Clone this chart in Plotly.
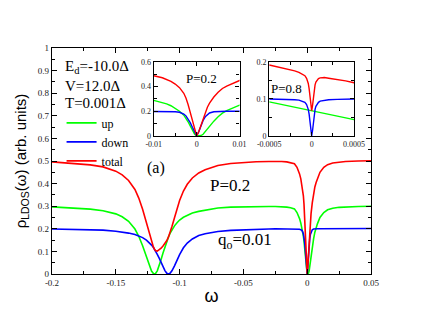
import plotly.graph_objects as go

# ---------------- data: P = 0.2 (main panel and first inset) ----------------
omega = [-0.2, -0.19, -0.18, -0.17, -0.16, -0.15, -0.145, -0.14, -0.135, -0.132,
         -0.129, -0.126, -0.124, -0.122, -0.1205, -0.1197, -0.119, -0.1175, -0.116, -0.1145,
         -0.113, -0.1115, -0.11, -0.1087, -0.1075, -0.106, -0.104, -0.102, -0.1, -0.097,
         -0.094, -0.09, -0.085, -0.08, -0.075, -0.07, -0.06, -0.05, -0.04, -0.03,
         -0.025, -0.02, -0.016, -0.013, -0.01, -0.008, -0.007, -0.006, -0.005, -0.004,
         -0.003, -0.0025, -0.002, -0.0015, -0.001, -0.0005, 0.0, 0.0005, 0.001, 0.0015,
         0.002, 0.0025, 0.003, 0.004, 0.005, 0.006, 0.007, 0.008, 0.01, 0.013,
         0.016, 0.02, 0.025, 0.03, 0.04, 0.05]
up = [0.297, 0.294, 0.291, 0.287, 0.28, 0.266, 0.253, 0.233, 0.199, 0.167,
      0.125, 0.074, 0.04, 0.013, 0.002, 0.0, 0.001, 0.014, 0.036, 0.064,
      0.093, 0.12, 0.145, 0.164, 0.18, 0.196, 0.213, 0.227, 0.239, 0.251,
      0.26, 0.27, 0.277, 0.283, 0.288, 0.292, 0.296, 0.298, 0.299, 0.299,
      0.299, 0.298, 0.296, 0.293, 0.288, 0.272, 0.26, 0.245, 0.225, 0.2,
      0.168, 0.145, 0.115, 0.082, 0.048, 0.016, 0.0, 0.0, 0.003, 0.013,
      0.035, 0.058, 0.08, 0.12, 0.155, 0.185, 0.205, 0.222, 0.25, 0.272,
      0.284, 0.291, 0.295, 0.297, 0.299, 0.3]
down = [0.199, 0.198, 0.197, 0.196, 0.194, 0.189, 0.186, 0.181, 0.175, 0.169,
        0.161, 0.15, 0.14, 0.128, 0.117, 0.11, 0.103, 0.087, 0.07, 0.05,
        0.031, 0.015, 0.003, 0.0, 0.003, 0.014, 0.036, 0.062, 0.086, 0.116,
        0.137, 0.155, 0.17, 0.178, 0.184, 0.188, 0.193, 0.196, 0.198, 0.199,
        0.2, 0.2, 0.2, 0.2, 0.2, 0.2, 0.199, 0.198, 0.196, 0.192,
        0.178, 0.163, 0.14, 0.108, 0.07, 0.028, 0.0, 0.035, 0.085, 0.125,
        0.155, 0.175, 0.186, 0.196, 0.199, 0.2, 0.2, 0.2, 0.2, 0.2,
        0.2, 0.2, 0.2, 0.201, 0.201, 0.201]
total = [0.496, 0.492, 0.488, 0.483, 0.474, 0.455, 0.439, 0.414, 0.374, 0.336,
         0.286, 0.224, 0.18, 0.141, 0.119, 0.11, 0.104, 0.101, 0.106, 0.114,
         0.124, 0.135, 0.148, 0.164, 0.183, 0.21, 0.249, 0.289, 0.325, 0.367,
         0.397, 0.425, 0.447, 0.461, 0.472, 0.48, 0.489, 0.494, 0.497, 0.498,
         0.499, 0.498, 0.496, 0.493, 0.488, 0.472, 0.459, 0.443, 0.421, 0.392,
         0.346, 0.308, 0.255, 0.19, 0.118, 0.044, 0.0, 0.035, 0.088, 0.138,
         0.19, 0.233, 0.266, 0.316, 0.354, 0.385, 0.405, 0.422, 0.45, 0.472,
         0.484, 0.491, 0.495, 0.498, 0.5, 0.501]

# ---------------- data: P = 0.8 (second inset) ----------------
omega_p8 = [-0.0005, -0.0004, -0.0003, -0.0002, -0.00015, -0.0001, -0.00008, -0.00006, -0.00005,
            -0.00004, -0.00003, -0.00002, -0.00001, 0.0, 0.00001, 0.00002, 0.00003, 0.00004,
            0.00005, 0.00006, 0.00008, 0.0001, 0.00015, 0.0002, 0.0003, 0.0004, 0.0005]
up_p8 = [0.092, 0.087, 0.082, 0.078, 0.075, 0.073, 0.072, 0.071, 0.070,
         0.070, 0.069, 0.069, 0.068, 0.068, 0.068, 0.067, 0.067, 0.066,
         0.066, 0.065, 0.064, 0.063, 0.061, 0.058, 0.054, 0.049, 0.044]
down_p8 = [0.1, 0.1, 0.099, 0.098, 0.097, 0.094, 0.091, 0.085, 0.08,
           0.072, 0.059, 0.039, 0.014, 0.0, 0.014, 0.039, 0.059, 0.072,
           0.08, 0.085, 0.091, 0.094, 0.097, 0.098, 0.099, 0.1, 0.1]
total_p8 = [0.192, 0.187, 0.181, 0.176, 0.172, 0.167, 0.163, 0.156, 0.15,
            0.142, 0.128, 0.108, 0.082, 0.068, 0.082, 0.106, 0.126, 0.138,
            0.146, 0.15, 0.155, 0.157, 0.158, 0.156, 0.153, 0.149, 0.144]

# ---------------- tick labels ----------------
main_xticks = [-0.2, -0.15, -0.1, -0.05, 0, 0.05]
main_xticktext = ["-0.2", "-0.15", "-0.1", "-0.05", "0", "0.05"]
main_yticks = [0, 0.1, 0.2, 0.3, 0.4, 0.5, 0.6, 0.7, 0.8, 0.9, 1]
main_yticktext = ["0", "0.1", "0.2", "0.3", "0.4", "0.5", "0.6", "0.7", "0.8", "0.9", "1"]
in1_xticks = [-0.01, 0, 0.01]
in1_xticktext = ["-0.01", "0", "0.01"]
in1_yticks = [0, 0.2, 0.4, 0.6]
in1_yticktext = ["0", "0.2", "0.4", "0.6"]
in2_xticks = [-0.0005, 0, 0.0005]
in2_xticktext = ["-0.0005", "0", "0.0005"]
in2_yticks = [0, 0.1, 0.2]
in2_yticktext = ["0", "0.1", "0.2"]

GREEN, BLUE, RED = "#00ff00", "#0000ff", "#ff0000"
SERIF = "Liberation Serif"
SANS = "Liberation Sans"

fig = go.Figure()
for y, name, col in [(up, "up", GREEN), (down, "down", BLUE), (total, "total", RED)]:
    fig.add_trace(go.Scatter(x=omega, y=y, name=name, mode="lines",
                             line=dict(color=col, width=1.6), xaxis="x", yaxis="y"))
for y, col in [(up, GREEN), (down, BLUE), (total, RED)]:
    fig.add_trace(go.Scatter(x=omega, y=y, mode="lines", showlegend=False,
                             line=dict(color=col, width=1.4), xaxis="x2", yaxis="y2"))
for y, col in [(up_p8, GREEN), (down_p8, BLUE), (total_p8, RED)]:
    fig.add_trace(go.Scatter(x=omega_p8, y=y, mode="lines", showlegend=False,
                             line=dict(color=col, width=1.4), xaxis="x3", yaxis="y3"))


def ax(**kw):
    base = dict(showline=True, linecolor="black", linewidth=1.3, mirror="allticks",
                ticks="inside", tickcolor="black", showgrid=False, zeroline=False,
                tickmode="array", tickfont=dict(family=SERIF, size=9, color="#222"))
    base.update(kw)
    return base


# the page body adds an 8px offset, so margins are shifted to compensate
fig.update_layout(
    width=430, height=332,
    margin=dict(l=40, r=67, t=40, b=66),
    paper_bgcolor="white", plot_bgcolor="white",
    showlegend=True,
    legend=dict(x=0.03, y=0.733, xanchor="left", yanchor="top",
                bgcolor="rgba(0,0,0,0)", font=dict(family=SERIF, size=12, color="black"),
                tracegroupgap=0, itemwidth=30),
    xaxis=ax(domain=[0, 1], range=[-0.2, 0.05], tickvals=main_xticks, ticktext=main_xticktext,
             ticklen=5, minor=dict(tickmode="linear", tick0=0, dtick=0.025, ticklen=3,
                                   ticks="inside", tickcolor="black"),
             title=dict(text="ω", font=dict(family=SANS, size=18, color="black"), standoff=2),
             anchor="y"),
    yaxis=ax(domain=[0, 1], range=[0, 1], tickvals=main_yticks, ticktext=main_yticktext,
             ticklen=5, minor=dict(tickmode="linear", tick0=0, dtick=0.05, ticklen=3,
                                   ticks="inside", tickcolor="black"),
             title=dict(text="ρ<sub>LDOS</sub>(ω) (arb. units)",
                        font=dict(family=SANS, size=15, color="black"), standoff=7),
             anchor="x"),
    xaxis2=ax(domain=[0.319, 0.588], range=[-0.01, 0.01], tickvals=in1_xticks,
              ticktext=in1_xticktext, ticklen=4, tickfont=dict(family=SERIF, size=8, color="#222"),
              minor=dict(tickmode="linear", tick0=0, dtick=0.005, ticklen=3, ticks="inside",
                         tickcolor="black"),
              anchor="y2"),
    yaxis2=ax(domain=[0.611, 0.938], range=[0, 0.6], tickvals=in1_yticks,
              ticktext=in1_yticktext, ticklen=4, tickfont=dict(family=SERIF, size=8, color="#222"),
              minor=dict(tickmode="linear", tick0=0, dtick=0.1, ticklen=3, ticks="inside",
                         tickcolor="black"),
              anchor="x2"),
    xaxis3=ax(domain=[0.681, 0.947], range=[-0.0005, 0.0005], tickvals=in2_xticks,
              ticktext=in2_xticktext, ticklen=4, tickfont=dict(family=SERIF, size=8, color="#222"),
              minor=dict(tickmode="linear", tick0=0, dtick=0.00025, ticklen=3, ticks="inside",
                         tickcolor="black"),
              anchor="y3"),
    yaxis3=ax(domain=[0.611, 0.938], range=[0, 0.2], tickvals=in2_yticks,
              ticktext=in2_yticktext, ticklen=4, tickfont=dict(family=SERIF, size=8, color="#222"),
              minor=dict(tickmode="linear", tick0=0, dtick=0.05, ticklen=3, ticks="inside",
                         tickcolor="black"),
              anchor="x3"),
)

annotations = [
    dict(text="E<sub>d</sub>=-10.0Δ", x=0.034, y=0.915, size=15),
    dict(text="V=12.0Δ", x=0.034, y=0.83, size=15),
    dict(text="T=0.001Δ", x=0.034, y=0.755, size=15),
    dict(text="(a)", x=0.29, y=0.47, size=16),
    dict(text="P=0.2", x=0.49, y=0.39, size=17),
    dict(text="q<sub>o</sub>=0.01", x=0.515, y=0.145, size=17),
    dict(text="P=0.2", x=0.415, y=0.865, size=13),
    dict(text="P=0.8", x=0.68, y=0.82, size=13),
]
for a in annotations:
    fig.add_annotation(text=a["text"], x=a["x"], y=a["y"], xref="paper", yref="paper",
                       xanchor="left", yanchor="middle", showarrow=False,
                       font=dict(family=SERIF, size=a["size"], color="black"))

fig.write_html("out.html")
